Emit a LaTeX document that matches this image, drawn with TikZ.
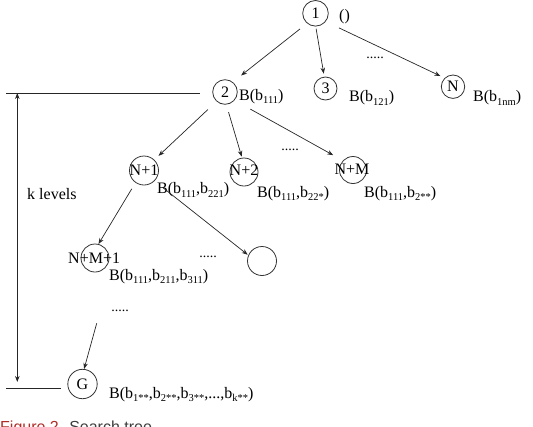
\documentclass[tikz,border=0pt]{standalone}
\usepackage{fontspec}
\setmainfont{Liberation Serif}
\newfontfamily\capfont{Liberation Sans}
\usetikzlibrary{arrows.meta}
\definecolor{capred}{RGB}{175,45,40}
\definecolor{capgray}{RGB}{60,60,60}
\newcommand{\mysub}[1]{\raisebox{-3.6pt}{\fontsize{10.5}{10.5}\selectfont #1}}
\begin{document}
\begin{tikzpicture}[x=1pt,y=-1pt,
  font=\fontsize{16}{18}\selectfont,
  circ/.style={draw=black!80, circle, line width=0.8pt, inner sep=0pt, minimum size=#1},
  circ/.default=26pt,
  edge/.style={draw=black!85, line width=0.7pt, -{Stealth[length=6pt,width=4.5pt]}},
  lbl/.style={anchor=base west, inner sep=0pt},
  txt/.style={inner sep=0pt},
  dotsn/.style={inner sep=0pt, font=\fontsize{14}{14}\selectfont}]
\clip (0,0) rectangle (533,426);
\useasboundingbox (0,0) rectangle (533,426);

% level 1
\node[circ=25.6pt] (n1) at (315.5,13.3) {1};
\node[lbl] (l1) at (339,20) {()};
% level 2
\node[circ=24.6pt] (n2) at (225,92) {2};
\node[lbl] (l2) at (239,100) {B(b\mysub{111})};
\node[circ=23pt] (n3) at (325.5,88.5) {3};
\node[lbl] (l3) at (349,101.7) {B(b\mysub{121})};
\node[circ=23.4pt] (nN) at (453,86.7) {N};
\node[lbl] (lN) at (473,101.7) {B(b\mysub{1nm})};
\node[dotsn] (d1) at (375,58) {.....};
% level 3
\node[circ=29pt] (a1) at (144,170.5) {};
\node[txt] (ta1) at (a1) {N+1};
\node[lbl] (la1) at (157,193.5) {B(b\mysub{111},b\mysub{221})};
\node[circ=28pt] (a2) at (244,172) {};
\node[txt] (ta2) at (244,170.5) {N+2};
\node[lbl] (la2) at (257,197) {B(b\mysub{111},b\mysub{22*})};
\node[circ=27pt] (a3) at (353,170) {};
\node[txt] (ta3) at (352,169) {N+M};
\node[lbl] (la3) at (364,197) {B(b\mysub{111},b\mysub{2**})};
\node[dotsn] (d2) at (290,150) {.....};
% level 4
\node[circ=28pt] (b1) at (95,258) {};
\node[lbl] (tb1) at (68,263) {N+M+1};
\node[lbl] (lb1) at (109,280) {B(b\mysub{111},b\mysub{211},b\mysub{311})};
\node[circ=29pt] (b2) at (262,261) {};
\node[dotsn] (d3) at (208,257) {.....};
\node[dotsn] (d4) at (120,311) {.....};
\coordinate (c4) at (96.7,323.3);
% goal
\node[circ=29.4pt] (g) at (82.5,384) {G};
\node[lbl] (lg) at (109,398) {B(b\mysub{1**},b\mysub{2**},b\mysub{3**},...,b\mysub{k**})};

% edges
\draw[edge, shorten <=8.9pt, shorten >=10.5pt] (n1.230) -- (n2.52);
\draw[edge, shorten <=2.2pt, shorten >=3pt] (n1.271) -- (n3.96);
\draw[edge, shorten <=14.6pt, shorten >=4.6pt] (n1.321) -- (nN.134);
\draw[edge, shorten <=11.8pt, shorten >=5.7pt] (n2.228) -- (a1.46);
\draw[edge, shorten <=7.8pt, shorten >=1.1pt] (n2.276) -- (a2.98);
\draw[edge, shorten <=18pt, shorten >=11pt] (n2.319) -- (a3.137);
\draw[edge, shorten <=7.1pt] (a1.235) -- (b1.76);
\draw[edge, shorten <=10.6pt, shorten >=0.7pt] (a1.315) -- (b2.157);
\draw[edge] (c4) -- (g.84);

% k levels
\coordinate (ht1) at (6,93);
\coordinate (ht2) at (200,93);
\coordinate (hb1) at (6,388);
\coordinate (hb2) at (61,388);
\coordinate (vt) at (17.3,93);
\coordinate (vb) at (17.3,382);
\draw[black!85, line width=0.7pt] (ht1) -- (ht2);
\draw[black!85, line width=0.7pt] (hb1) -- (hb2);
\draw[black!85, line width=0.7pt, {Stealth[length=6pt,width=4.5pt]}-{Stealth[length=6pt,width=4.5pt]}] (vt) -- (vb);
\node[lbl] (kl) at (27,199) {k levels};

% caption (cut off at the bottom edge, as in the reference)
\node[lbl, font=\capfont\fontsize{16}{16}\selectfont] (cap) at (0,432) {\textcolor{capred}{Figure 2.} \textcolor{capgray}{Search tree}};
\end{tikzpicture}
\end{document}
